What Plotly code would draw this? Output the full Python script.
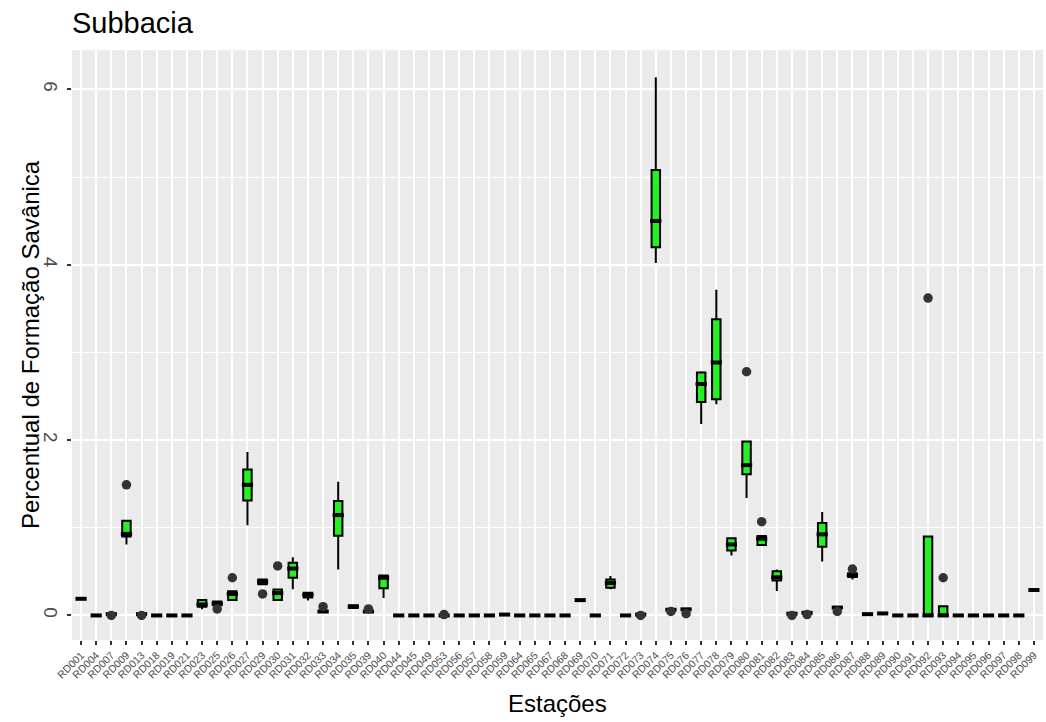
import plotly.graph_objects as go

stations = ["RD001","RD004","RD007","RD009","RD013","RD018","RD019","RD021","RD023","RD025",
            "RD026","RD027","RD029","RD030","RD031","RD032","RD033","RD034","RD035","RD039",
            "RD040","RD044","RD045","RD049","RD053","RD056","RD057","RD058","RD059","RD064",
            "RD065","RD067","RD068","RD069","RD070","RD071","RD072","RD073","RD074","RD075",
            "RD076","RD077","RD078","RD079","RD080","RD081","RD082","RD083","RD084","RD085",
            "RD086","RD087","RD088","RD089","RD090","RD091","RD092","RD093","RD094","RD095",
            "RD096","RD097","RD098","RD099"]

q1 = [0.19,0,0.015,0.90,0.015,0,0,0,0.10,0.115,
      0.175,1.31,0.355,0.175,0.43,0.205,0.04,0.91,0.085,0.04,
      0.31,0,0,0,0,0,0,0,0.01,0,
      0,0,0,0.175,0,0.315,0,0.01,4.20,0.065,
      0.07,2.435,2.465,0.74,1.61,0.805,0.40,0.02,0.03,0.785,
      0.09,0.44,0.015,0.023,0,0,0,0,0,0,
      0,0,0,0.29]
median = [0.19,0,0.015,0.93,0.015,0,0,0,0.125,0.135,
          0.245,1.49,0.385,0.255,0.535,0.235,0.045,1.145,0.10,0.045,
          0.43,0,0,0,0,0,0,0,0.01,0,
          0,0,0,0.175,0,0.37,0,0.01,4.50,0.065,
          0.07,2.64,2.885,0.81,1.715,0.875,0.435,0.02,0.03,0.925,
          0.09,0.46,0.015,0.023,0,0,0,0,0,0,
          0,0,0,0.29]
q3 = [0.19,0,0.015,1.08,0.015,0,0,0,0.175,0.16,
      0.275,1.665,0.41,0.295,0.60,0.26,0.05,1.305,0.115,0.05,
      0.455,0,0,0,0,0,0,0,0.01,0,
      0,0,0,0.175,0,0.41,0,0.01,5.08,0.065,
      0.07,2.77,3.38,0.88,1.985,0.905,0.505,0.02,0.03,1.055,
      0.09,0.48,0.015,0.023,0,0,0.90,0.105,0,0,
      0,0,0,0.29]
lower = [0.19,0,0.015,0.81,0.015,0,0,0,0.07,0.115,
         0.175,1.03,0.355,0.175,0.30,0.17,0.04,0.525,0.085,0.04,
         0.20,0,0,0,0,0,0,0,0.01,0,
         0,0,0,0.175,0,0.30,0,0.01,4.02,0.065,
         0.07,2.185,2.41,0.685,1.34,0.805,0.28,0.02,0.03,0.615,
         0.09,0.41,0.015,0.023,0,0,0,0,0,0,
         0,0,0,0.29]
upper = [0.19,0,0.015,1.08,0.015,0,0,0,0.175,0.17,
         0.275,1.865,0.41,0.295,0.665,0.26,0.05,1.525,0.115,0.05,
         0.455,0,0,0,0,0,0,0,0.01,0,
         0,0,0,0.175,0,0.45,0,0.01,6.14,0.065,
         0.07,2.785,3.715,0.89,1.985,0.905,0.525,0.02,0.03,1.18,
         0.09,0.48,0.015,0.023,0,0,0.90,0.105,0,0,
         0,0,0,0.29]

outlier_stations = ["RD007","RD009","RD013","RD025","RD026","RD029","RD030","RD033","RD039",
                    "RD053","RD073","RD075","RD076","RD080","RD081","RD083","RD084","RD086",
                    "RD087","RD092","RD093"]
outlier_values = [0.0,1.49,0.0,0.075,0.43,0.245,0.565,0.10,0.075,
                  0.01,0.0,0.045,0.02,2.78,1.07,0.0,0.01,0.045,
                  0.53,3.62,0.43]

FONT = "Liberation Sans, Arial, Helvetica, sans-serif"
W, H = 1046, 722
ML, MR, MT, MB = 72, 3, 50, 82
PW = W - ML - MR

fig = go.Figure()
fig.add_trace(go.Box(
    x=stations, q1=q1, median=median, q3=q3, lowerfence=lower, upperfence=upper,
    fillcolor="#24F024", line=dict(color="black", width=2), whiskerwidth=0,
    boxpoints=False, showlegend=False, hoverinfo="skip",
))
fig.add_trace(go.Scatter(
    x=stations, y=median, mode="markers",
    marker=dict(symbol="line-ew", size=8, line=dict(color="black", width=4)),
    showlegend=False, hoverinfo="skip",
))
fig.add_trace(go.Scatter(
    x=outlier_stations, y=outlier_values, mode="markers",
    marker=dict(size=9.5, color="#333333", line=dict(width=0)),
    showlegend=False, hoverinfo="skip",
))

fig.update_layout(
    width=W, height=H,
    margin=dict(l=ML, r=MR, t=MT, b=MB, autoexpand=False),
    paper_bgcolor="white", plot_bgcolor="#EBEBEB",
    boxgap=0.2,
    font=dict(family=FONT, color="black"),
    title=dict(text="Subbacia", x=ML / W, xanchor="left", xref="container",
               y=1 - 23 / H, yanchor="middle", yref="container",
               font=dict(size=29, color="black", family=FONT)),
    xaxis=dict(
        type="category", categoryorder="array", categoryarray=stations,
        range=[-0.6, len(stations) - 0.4], automargin=False,
        showgrid=True, gridcolor="white", gridwidth=1.5,
        ticks="outside", ticklen=4, tickcolor="#333333", tickwidth=1.5,
        tickangle=-45, tickfont=dict(size=10.5, color="#4D4D4D", family=FONT),
        zeroline=False, showline=False,
    ),
    yaxis=dict(
        range=[-0.28, 6.45], tickvals=[0, 2, 4, 6], automargin=False,
        showgrid=True, gridcolor="white", gridwidth=1.5,
        minor=dict(tickvals=[1, 3, 5], showgrid=True, gridcolor="white", gridwidth=0.7, ticks=""),
        ticks="outside", ticklen=4, tickcolor="#333333", tickwidth=1.5,
        tickangle=90, tickfont=dict(size=19, color="#4D4D4D", family=FONT),
        zeroline=False, showline=False,
    ),
    annotations=[
        dict(text="Estações", xref="paper", yref="paper", x=0.5, y=-(703 - (H - MB)) / (H - MT - MB),
             xanchor="center", yanchor="middle", showarrow=False,
             font=dict(size=24, color="black", family=FONT)),
        dict(text="Percentual de Formação Savânica", xref="paper", yref="paper",
             x=-(ML - 30) / PW, y=0.5, xanchor="center", yanchor="middle", textangle=-90,
             showarrow=False, font=dict(size=24, color="black", family=FONT)),
    ],
)

fig.write_html("out.html", post_script="document.body.style.margin='0';",
               config={"displayModeBar": False})
